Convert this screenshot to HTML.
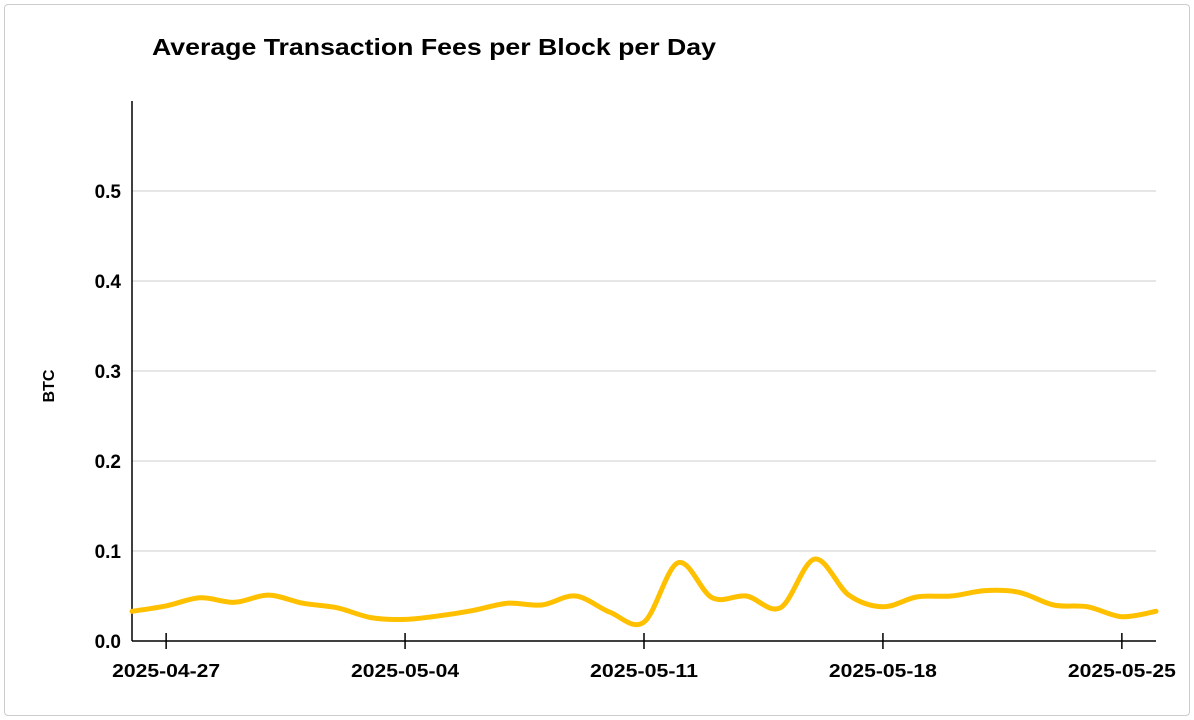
<!DOCTYPE html>
<html><head><meta charset="utf-8"><style>
body{margin:0;background:#fff;font-family:"Liberation Sans",Arial,sans-serif}
#frame{position:absolute;left:4px;top:4px;width:1184px;height:710px;border:1px solid #ccc;border-radius:4px}
</style></head><body>
<div id="frame"></div>
<svg id="chart" width="1194" height="720" style="position:absolute;left:0;top:0">
<text x="152" y="55" font-size="23" font-weight="bold" fill="#000" textLength="564" lengthAdjust="spacingAndGlyphs">Average Transaction Fees per Block per Day</text>
<text transform="translate(54,386) rotate(-90)" text-anchor="middle" font-size="16" font-weight="bold">BTC</text>
<g id="grid"></g><g id="axes"></g>
<path id="line" fill="none" stroke="#ffc000" stroke-width="5" stroke-linejoin="round" stroke-linecap="round"/>
</svg>
<script>
const values=[0.033,0.039,0.048,0.043,0.051,0.042,0.037,0.026,0.024,0.028,0.034,0.042,0.040,0.050,0.032,0.021,0.087,0.048,0.050,0.037,0.091,0.051,0.038,0.049,0.050,0.056,0.054,0.040,0.038,0.027,0.033];
const yTicks=[0.0,0.1,0.2,0.3,0.4,0.5];
const xTickLabels=["2025-04-27","2025-05-04","2025-05-11","2025-05-18","2025-05-25"];
const xTickDays=[1,8,15,22,29];
const X0=132,X1=1156,Y0=641,YT=101,YMAX=0.6;
const xs=d=>X0+(X1-X0)*d/(values.length-1);
const ys=v=>Y0-(Y0-YT)*v/YMAX;
const NS="http://www.w3.org/2000/svg";
const grid=document.getElementById('grid'),axes=document.getElementById('axes');
function mk(tag,attrs,parent){const e=document.createElementNS(NS,tag);for(const k in attrs)e.setAttribute(k,attrs[k]);parent.appendChild(e);return e;}
yTicks.forEach(t=>{
  if(t>0){const l=mk('line',{x1:X0,x2:X1,y1:ys(t),y2:ys(t),stroke:'#ddd','stroke-width':1.5},grid);
  
  }
  const tx=mk('text',{x:121,y:ys(t)+7,'text-anchor':'end','font-size':19,'font-weight':'bold'},axes);
  tx.textContent=t.toFixed(1);
  
  
});
const ya=mk('line',{x1:X0,x2:X0,y1:YT,y2:Y0,stroke:'#000','stroke-width':1.5},axes);


const xa=mk('line',{x1:X0,x2:X1,y1:Y0,y2:Y0,stroke:'#000','stroke-width':1.5},axes);


xTickDays.forEach((d,i)=>{
  const tk=mk('line',{x1:xs(d),x2:xs(d),y1:Y0-8,y2:Y0+8,stroke:'#000','stroke-width':1.5},axes);
  
  
  const tx=mk('text',{x:xs(d),y:677,'text-anchor':'middle','font-size':18,'font-weight':'bold',textLength:108,lengthAdjust:'spacingAndGlyphs'},axes);
  tx.textContent=xTickLabels[i];
  
  
});
const P=values.map((v,i)=>[xs(i),ys(v)]);
let d='M'+P[0][0]+','+P[0][1];
for(let i=0;i<P.length-1;i++){
  const p0=P[Math.max(i-1,0)],p1=P[i],p2=P[i+1],p3=P[Math.min(i+2,P.length-1)];
  const t=6;
  d+=` C${p1[0]+(p2[0]-p0[0])/t},${p1[1]+(p2[1]-p0[1])/t} ${p2[0]-(p3[0]-p1[0])/t},${p2[1]-(p3[1]-p1[1])/t} ${p2[0]},${p2[1]}`;
}
document.getElementById('line').setAttribute('d',d);
</script>
</body></html>
